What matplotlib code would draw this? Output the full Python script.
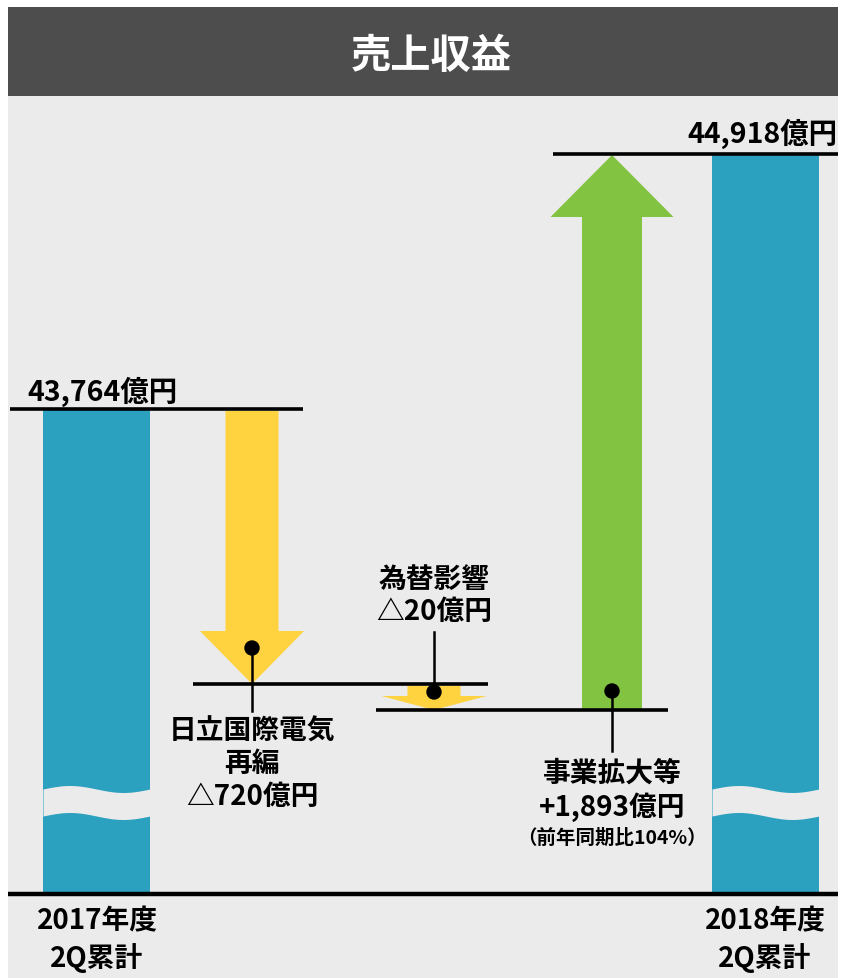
import numpy as np
import matplotlib
matplotlib.use('Agg')
from matplotlib import pyplot as plt
from matplotlib.patches import Polygon, Rectangle, Circle

plt.rcParams['font.family'] = ['Noto Sans CJK JP', 'DejaVu Sans']

# values (億円)
title = '売上収益'
start_value = 43764
end_value = 44918
change_names = ['日立国際電気\n再編', '為替影響', '事業拡大等']
change_values = [-720, -20, 1893]
change_note = '（前年同期比104%）'
period_labels = ['2017年度\n2Q累計', '2018年度\n2Q累計']

# schematic layout (not to scale, as in the original slide) - pixel units
BG = '#ebebeb'
BLUE = '#2ca1bf'
YELLOW = '#ffd23f'
GREEN = '#82c341'
base_y = 895
level_y = [410, 685, 711, 155]   # start, after change 1, after change 2, end


def fmt(v, sign=False):
    if v < 0:
        return f'△{abs(v):,}億円'
    return (f'+{v:,}' if sign else f'{v:,}') + '億円'


def wave_break(ax, x0, x1):
    xs = np.linspace(x0, x1, 60)
    t = (xs - x0) / (x1 - x0)
    top = 790 - 3.5 * np.sin(2 * np.pi * t)
    ax.fill_between(xs, top, top + 27, color=BG, zorder=3, lw=0)


def down_arrow(ax, xc, y0, y1, shaft_w, head_w, head_h, color):
    pts = [(xc - shaft_w / 2, y0), (xc + shaft_w / 2, y0), (xc + shaft_w / 2, y1 - head_h),
           (xc + head_w / 2, y1 - head_h), (xc, y1), (xc - head_w / 2, y1 - head_h),
           (xc - shaft_w / 2, y1 - head_h)]
    ax.add_patch(Polygon(pts, closed=True, color=color, lw=0, zorder=2))


def up_arrow(ax, xc, y0, y1, shaft_w, head_w, head_h, color):
    pts = [(xc - shaft_w / 2, y0), (xc + shaft_w / 2, y0), (xc + shaft_w / 2, y1 + head_h),
           (xc + head_w / 2, y1 + head_h), (xc, y1), (xc - head_w / 2, y1 + head_h),
           (xc - shaft_w / 2, y1 + head_h)]
    ax.add_patch(Polygon(pts, closed=True, color=color, lw=0, zorder=2))


fig = plt.figure(figsize=(8.46, 9.79), dpi=100)
ax = fig.add_axes([0, 0, 1, 1])
ax.set_xlim(0, 846)
ax.set_ylim(979, 0)
ax.axis('off')

# panel background and header
ax.add_patch(Rectangle((8, 97), 830, 900, color=BG, lw=0, zorder=0))
ax.add_patch(Rectangle((8, 8), 830, 89, color='#4d4d4d', lw=0, zorder=0))
ax.text(431, 56, title, color='white', fontsize=29, fontweight='bold', ha='center', va='center')

# total bars
ax.add_patch(Rectangle((43, level_y[0]), 107, base_y - level_y[0], color=BLUE, lw=0, zorder=1))
ax.add_patch(Rectangle((712, level_y[3]), 107, base_y - level_y[3], color=BLUE, lw=0, zorder=1))
wave_break(ax, 43, 150)
wave_break(ax, 712, 819)

# level lines
ax.plot([10, 303], [level_y[0], level_y[0]], color='black', lw=2.6, zorder=4, solid_capstyle='butt')
ax.plot([193, 488], [level_y[1], level_y[1]], color='black', lw=2.6, zorder=4, solid_capstyle='butt')
ax.plot([376, 668], [level_y[2], level_y[2]], color='black', lw=2.6, zorder=4, solid_capstyle='butt')
ax.plot([553, 838], [level_y[3], level_y[3]], color='black', lw=2.6, zorder=4, solid_capstyle='butt')
ax.plot([8, 838], [base_y, base_y], color='black', lw=3.2, zorder=4, solid_capstyle='butt')

# total labels
ax.text(27, 392, fmt(start_value), fontsize=20.5, fontweight='bold', ha='left', va='center')
ax.text(838, 134, fmt(end_value), fontsize=20.5, fontweight='bold', ha='right', va='center')

# change arrows
down_arrow(ax, 252, level_y[0] + 2, level_y[1], 53, 104, 53, YELLOW)
down_arrow(ax, 434, level_y[1] + 2, level_y[2], 53, 105, 14, YELLOW)
up_arrow(ax, 612, level_y[2], level_y[3] + 1, 60, 123, 62, GREEN)

# markers and leader lines
ax.plot([252, 252], [649, 712], color='black', lw=1.8, zorder=5)
ax.add_patch(Circle((252, 649), 7, color='black', zorder=6))
ax.plot([434, 434], [633, 693], color='black', lw=1.8, zorder=5)
ax.add_patch(Circle((434, 693), 7, color='black', zorder=6))
ax.plot([612, 612], [692, 752], color='black', lw=1.8, zorder=5)
ax.add_patch(Circle((612, 692), 7, color='black', zorder=6))

# change labels
ax.text(252, 764, change_names[0] + '\n' + fmt(change_values[0]), fontsize=20,
        fontweight='bold', ha='center', va='center', linespacing=1.22)
ax.text(434, 596, change_names[1] + '\n' + fmt(change_values[1]), fontsize=20,
        fontweight='bold', ha='center', va='center', linespacing=1.22)
ax.text(612, 791, change_names[2] + '\n' + fmt(change_values[2], sign=True), fontsize=20,
        fontweight='bold', ha='center', va='center', linespacing=1.22)
ax.text(612, 838, change_note, fontsize=14, fontweight='bold', ha='center', va='center')

# period labels
ax.text(97, 940, period_labels[0], fontsize=20, fontweight='bold', ha='center', va='center',
        linespacing=1.3)
ax.text(765, 940, period_labels[1], fontsize=20, fontweight='bold', ha='center', va='center',
        linespacing=1.3)

fig.savefig('out.png', dpi=100, facecolor='white')
